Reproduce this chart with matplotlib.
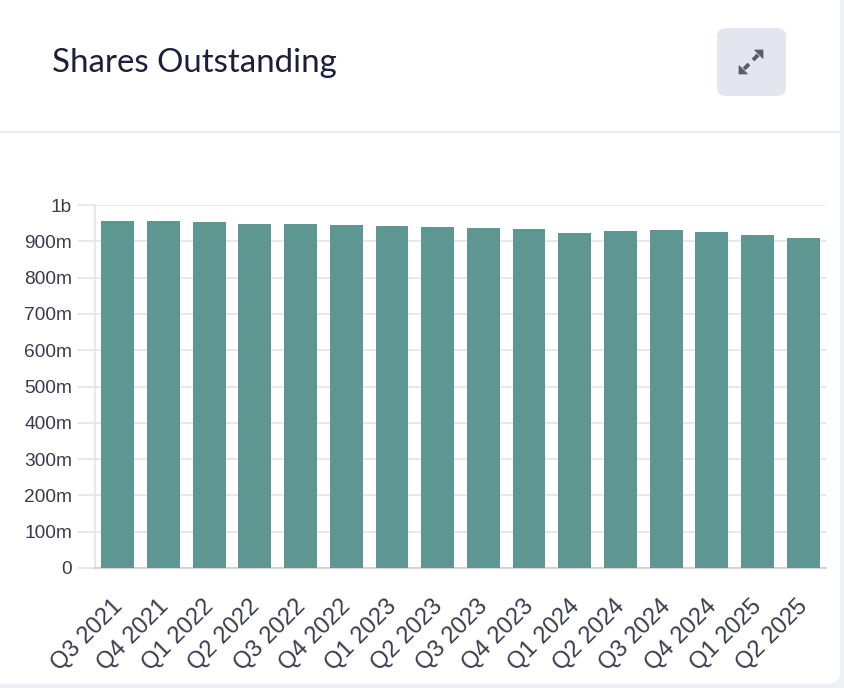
import matplotlib
matplotlib.use("Agg")
import matplotlib.pyplot as plt
from matplotlib.patches import FancyBboxPatch, Polygon
from matplotlib.lines import Line2D
from matplotlib.ticker import FuncFormatter, MultipleLocator
from matplotlib.transforms import ScaledTranslation

categories = ["Q3 2021", "Q4 2021", "Q1 2022", "Q2 2022", "Q3 2022", "Q4 2022",
              "Q1 2023", "Q2 2023", "Q3 2023", "Q4 2023", "Q1 2024", "Q2 2024",
              "Q3 2024", "Q4 2024", "Q1 2025", "Q2 2025"]
shares_m = [955, 955, 953, 949, 947, 946, 942, 939, 936, 935, 922, 928, 930, 926, 917, 910]
title = "Shares Outstanding"

W, H = 844, 688
DPI = 100
fig = plt.figure(figsize=(W / DPI, H / DPI), dpi=DPI)
fig.patch.set_facecolor("#eef0f5")

def fx(x):
    return x / W

def fy(y):
    return 1 - y / H

# card
card = FancyBboxPatch((fx(-20), fy(684)), fx(860), 704 / H,
                      boxstyle="round,pad=0,rounding_size=0.016",
                      transform=fig.transFigure, facecolor="white",
                      edgecolor="none", zorder=-10)
fig.patches.append(card)

# header
fig.text(fx(52), fy(63), title, fontfamily="Lato", fontsize=23.8,
         color="#1b1f3b", ha="left", va="center")
fig.add_artist(Line2D([fx(0), fx(840)], [fy(132), fy(132)],
                      transform=fig.transFigure, color="#ececf1", lw=1.5,
                      zorder=-5))

# expand button
btn = FancyBboxPatch((fx(717), fy(96)), fx(69), 68 / H,
                     boxstyle="round,pad=0,rounding_size=0.012",
                     transform=fig.transFigure, facecolor="#e4e6ef",
                     edgecolor="none", zorder=-5)
fig.patches.append(btn)
icon_col = "#585a70"
for tip, a, b, s0, s1 in [((763, 50), (754.5, 50), (763, 58.5), (758, 55), (753, 60)),
                          ((739, 74), (747.5, 74), (739, 65.5), (744, 69), (749, 64))]:
    fig.add_artist(Polygon([(fx(tip[0]), fy(tip[1])), (fx(a[0]), fy(a[1])),
                            (fx(b[0]), fy(b[1]))], closed=True,
                           transform=fig.transFigure, facecolor=icon_col,
                           edgecolor=icon_col, lw=0.5, zorder=-4))
    fig.add_artist(Line2D([fx(s0[0]), fx(s1[0])], [fy(s0[1]), fy(s1[1])],
                          transform=fig.transFigure, color=icon_col, lw=2.8,
                          solid_capstyle="butt", zorder=-4))

# chart
ax = fig.add_axes([fx(95), fy(568), fx(826) - fx(95), 363 / H])
ax.set_facecolor("none")
ax.set_zorder(1)
x = list(range(len(categories)))
ax.bar(x, [v * 1e6 for v in shares_m], width=0.72, color="#5e9792",
       edgecolor="none", zorder=3)
ax.set_xlim(-0.5, len(categories) - 0.5)
ax.set_ylim(0, 1e9)

def fmt(v, pos):
    if v == 0:
        return "0"
    if v >= 1e9:
        return f"{v / 1e9:g}b"
    return f"{v / 1e6:g}m"

ax.yaxis.set_major_locator(MultipleLocator(1e8))
ax.yaxis.set_major_formatter(FuncFormatter(fmt))
ax.grid(axis="y", color="#e4e4e4", lw=1.2, zorder=0)
ax.set_axisbelow(True)
for s in ["top", "right"]:
    ax.spines[s].set_visible(False)
ax.spines["left"].set_color("#e4e4e4")
ax.spines["left"].set_linewidth(1.2)
ax.spines["bottom"].set_color("#cccccc")
ax.spines["bottom"].set_linewidth(1.2)
ax.tick_params(axis="y", length=12.5, width=1.2, color="#e4e4e4", pad=4,
               labelsize=13.8, labelcolor="#3a3b4c")
ax.tick_params(axis="x", length=0, pad=19.8, labelsize=17, labelcolor="#3a3b4c")
ax.set_xticks(x)
ax.set_xticklabels(categories, rotation=45, ha="right", va="top",
                   rotation_mode="anchor")
shift = ScaledTranslation(-6.5 / DPI, 0, fig.dpi_scale_trans)
for lab in ax.get_xticklabels():
    lab.set_transform(lab.get_transform() + shift)
for lab in ax.get_xticklabels() + ax.get_yticklabels():
    lab.set_fontfamily("Liberation Sans")

fig.savefig("out.png", dpi=DPI, facecolor=fig.get_facecolor())
